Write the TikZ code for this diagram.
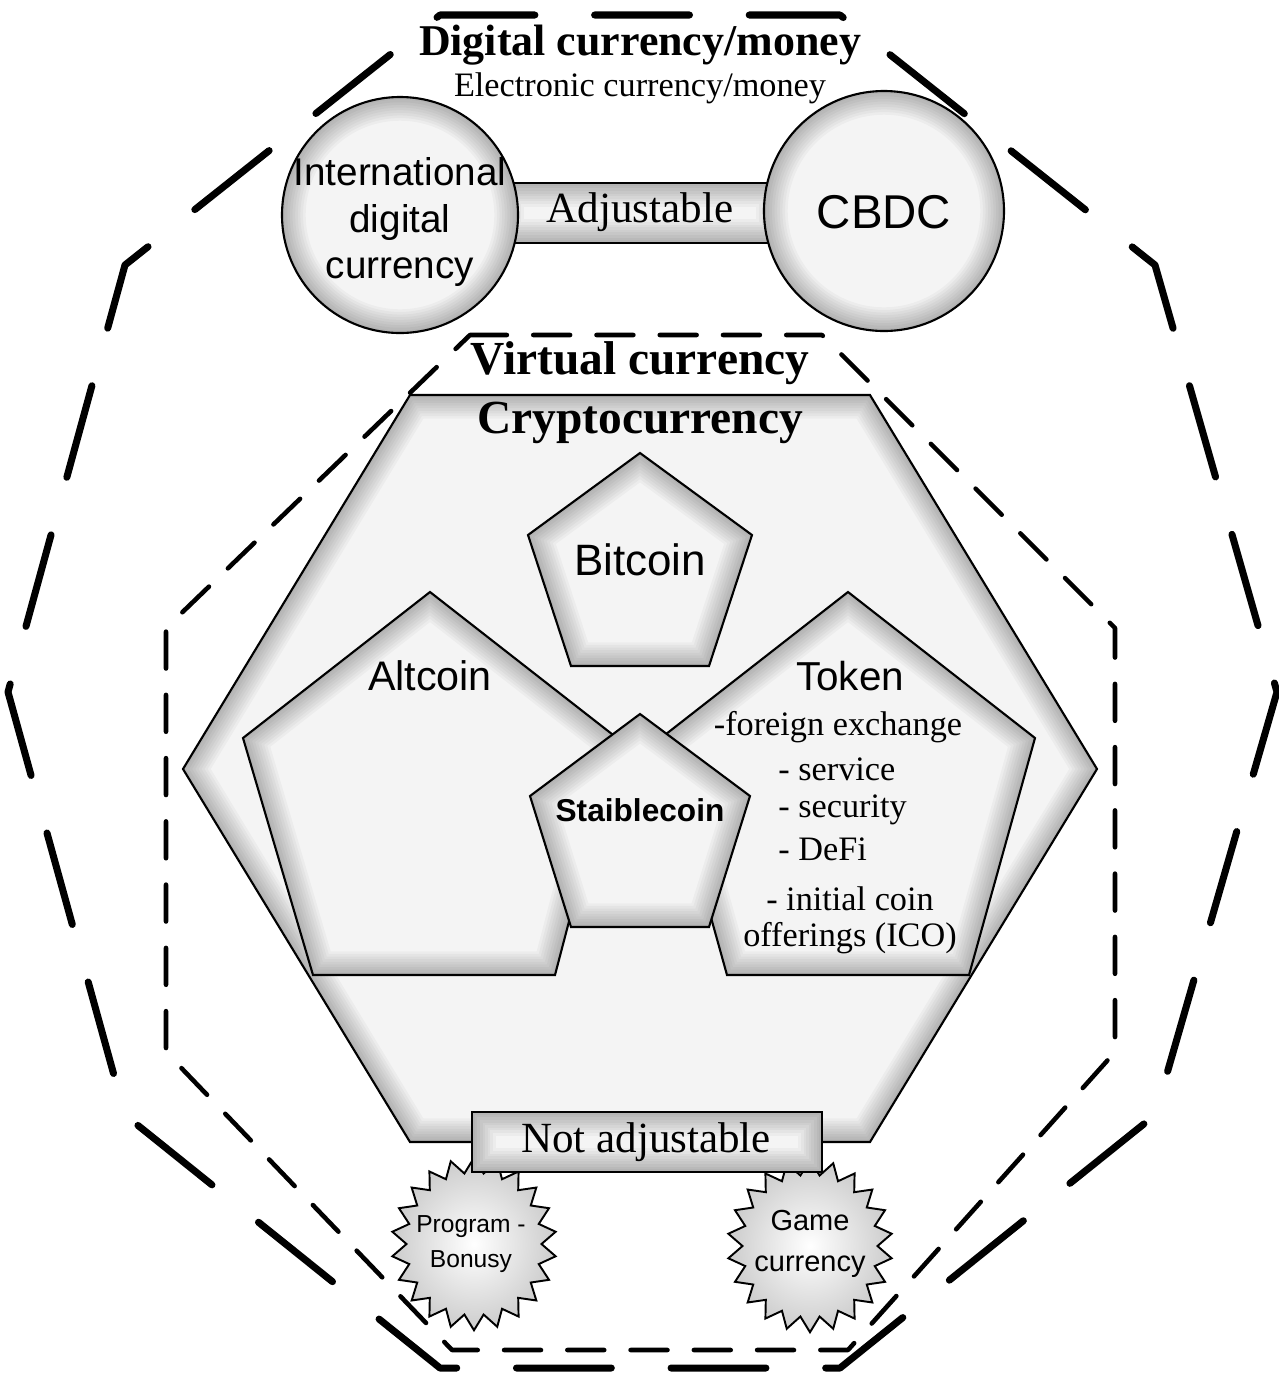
\documentclass[tikz,border=0pt]{standalone}
\usepackage{fontspec}
\setmainfont{Liberation Serif}
\setsansfont{Liberation Sans}
\usetikzlibrary{shapes.symbols}
\definecolor{shapefill}{gray}{0.955}
\newcommand\fsz[2]{\fontsize{#1}{#2}\selectfont}
% light fill with a soft dark rim inside the outline
\newcommand\glowshape[1]{%
\fill[shapefill] #1;
\begin{scope}
\clip #1;
\foreach \w in {3,6,...,27}
\draw[black,opacity=0.03,line width=\w pt,line join=round] #1;
\end{scope}
\draw[shapeline] #1;}
\tikzset{
shapeline/.style={draw=black,line width=1.2pt},
bigdash/.style={line width=4pt,dash pattern=on 54pt off 34pt,line cap=round,line join=round},
smalldash/.style={line width=2.6pt,dash pattern=on 21pt off 15pt,line cap=round,line join=round},
txt/.style={inner sep=0pt,align=center},
burst/.style={starburst,starburst points=22,starburst point height=0.3cm,random starburst=0,
draw,line width=1.1pt,inner color=white,outer color=gray!40,minimum width=3.3cm,minimum height=3.45cm,inner sep=0pt}}
\begin{document}
\begin{tikzpicture}[x=0.02cm,y=-0.02cm]
\useasboundingbox (0,0) rectangle (1279,1374);
\draw[bigdash](440,15)--(840,15)--(1155,265)--(1277,692)--(1155,1115)--(840,1368)--(440,1368)--(125,1115)--(8,692)--(125,265)--cycle;
\draw[smalldash](470,335)--(822,335)--(1115,628)--(1115,1052)--(848,1350)--(452,1350)--(166,1052)--(166,628)--cycle;
\glowshape{(500,183) rectangle (780,243)}
\glowshape{(400,215) circle[radius=118]}
\glowshape{(884,211) circle[radius=120]}
\glowshape{(410,395)--(870,395)--(1097,769)--(870,1142)--(410,1142)--(183,769)--cycle}
\glowshape{(640,453)--(752,535)--(709,666)--(571,666)--(528,535)--cycle}
\glowshape{(430,592)--(617,738)--(555,975)--(313,975)--(243,738)--cycle}
\glowshape{(848,592)--(1035,738)--(969,975)--(727,975)--(661,738)--cycle}
\glowshape{(640,714)--(750,796)--(709,927)--(571,927)--(530,796)--cycle}
\node[burst](bonusburst) at (474,1244){};
\node[burst](gameburst) at (810,1246){};
\glowshape{(472,1112) rectangle (822,1172)}
\node[txt,font=\bfseries\fsz{25}{30}](title) at (640,45){Digital currency/money};
\node[txt,font=\fsz{19.5}{23}](subtitle) at (640,88){Electronic currency/money};
\node[txt,font=\sffamily\fsz{22}{26.5}](intl) at (400,222){International\\digital\\currency};
\node[txt,font=\fsz{24.5}{29}](adj) at (640,212){Adjustable};
\node[txt,font=\sffamily\fsz{27}{32}](cbdc) at (884,212){CBDC};
\node[txt,font=\bfseries\fsz{27}{32}](virtual) at (640,363){Virtual currency};
\node[txt,font=\bfseries\fsz{27}{32}](crypto) at (640,423){Cryptocurrency};
\node[txt,font=\sffamily\fsz{25}{30}](bitcoin) at (640,560){Bitcoin};
\node[txt,font=\sffamily\fsz{23.5}{28}](altcoin) at (430,676){Altcoin};
\node[txt,font=\sffamily\fsz{23}{28}](token) at (850,676){Token};
\node[txt,font=\sffamily\bfseries\fsz{18}{22}](stable) at (640,810){Staiblecoin};
\node[txt,font=\fsz{19.5}{23}](tokfx) at (838,727){-foreign exchange};
\node[txt,font=\fsz{19.5}{23},anchor=west](toksvc) at (778,769){- service};
\node[txt,font=\fsz{19.5}{23},anchor=west](toksec) at (778,810){- security};
\node[txt,font=\fsz{19.5}{23},anchor=west](tokdefi) at (778,849){- DeFi};
\node[txt,font=\fsz{19.5}{20.5}](tokico) at (850,920){- initial coin\\offerings (ICO)};
\node[txt,font=\fsz{24.5}{29}](notadj) at (646,1142){Not adjustable};
\node[txt,font=\sffamily\fsz{14}{19.5}](bonus) at (471,1244){Program -\\Bonusy};
\node[txt,font=\sffamily\fsz{16.5}{23}](game) at (810,1244){Game\\currency};
\end{tikzpicture}
\end{document}
